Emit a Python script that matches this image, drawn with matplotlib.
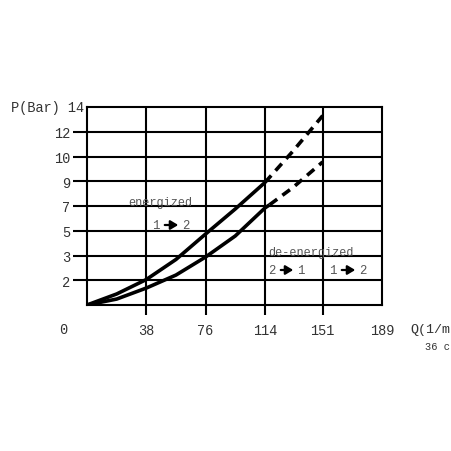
import numpy as np
import matplotlib
matplotlib.use("Agg")
import matplotlib.pyplot as plt

# ---- data ----
y_levels = [0, 2, 3, 5, 7, 9, 10, 12, 14]          # pressure gridline labels (bar), evenly spaced on chart
x_ticks = [38, 76, 114, 151, 189]                   # flow tick labels (l/min)

energ_q = [0, 19, 38, 57, 76, 95, 114]
energ_p = [0, 0.89, 2.03, 2.84, 4.74, 6.76, 8.9]
energ_q_dash = [114, 132, 151]
energ_p_dash = [8.9, 10.44, 13.3]

deen_q = [0, 19, 38, 57, 76, 95, 114, 117]
deen_p = [0, 0.48, 1.37, 2.21, 2.94, 4.58, 6.84, 7.1]
deen_q_dash = [117, 132, 151]
deen_p_dash = [7.1, 8.5, 9.78]

FONT = "Liberation Mono"
positions = np.arange(len(y_levels), dtype=float)

def fwd(y):
    return np.interp(y, y_levels, positions)

def inv(p):
    return np.interp(p, positions, y_levels)

fig = plt.figure(figsize=(4.52, 4.52), dpi=100)
ax = fig.add_axes([87/452, 1-306/452, (382-87)/452, (306-108)/452])
ax.set_yscale("function", functions=(fwd, inv))
ax.set_xlim(0, 189)
ax.set_ylim(0, 14)

lw_grid = 1.5
for s in ax.spines.values():
    s.set_linewidth(lw_grid)
    s.set_color("black")

ax.set_yticks(y_levels[1:])
ax.set_yticklabels([str(v) for v in y_levels[1:-1]] + [""])
ax.set_xticks(x_ticks)
ax.set_xticklabels([str(v) for v in x_ticks])
ax.yaxis.set_minor_locator(matplotlib.ticker.NullLocator())
ax.xaxis.set_minor_locator(matplotlib.ticker.NullLocator())

ax.tick_params(axis="y", direction="out", length=10, width=lw_grid, pad=2,
               labelsize=9.8, colors="black", labelcolor="#333333")
ax.tick_params(axis="x", direction="out", length=7.2, width=lw_grid, pad=6,
               labelsize=9.8, colors="black", labelcolor="#333333")
for lab in ax.get_xticklabels() + ax.get_yticklabels():
    lab.set_fontfamily(FONT)
ax.yaxis.get_major_ticks()[-1].tick1line.set_visible(False)
ax.xaxis.get_major_ticks()[-1].tick1line.set_visible(False)

for v in y_levels[1:-1]:
    ax.axhline(v, color="black", lw=lw_grid, zorder=1)
for v in x_ticks[:-1]:
    ax.axvline(v, color="black", lw=lw_grid, zorder=1)

lw_c = 2.6
ax.plot(energ_q, energ_p, color="black", lw=lw_c, solid_capstyle="butt",
        solid_joinstyle="round", zorder=3)
ax.plot(energ_q_dash, energ_p_dash, color="black", lw=lw_c, dashes=(2.6, 1.8), zorder=3)
ax.plot(deen_q, deen_p, color="black", lw=lw_c, solid_capstyle="butt",
        solid_joinstyle="round", zorder=3)
ax.plot(deen_q_dash, deen_p_dash, color="black", lw=lw_c, dashes=(2.6, 1.8), zorder=3)

# labels
fig.text(84/452, 1-108/452, "P(Bar) 14", ha="right", va="center", fontsize=9.8,
         family=FONT, color="#333333")
fig.text(63/452, 1-330/452, "0", ha="center", va="center", fontsize=9.8,
         family=FONT, color="#333333")
fig.text(410/452, 1-330/452, "Q(1/m", ha="left", va="center", fontsize=9.6,
         family=FONT, color="#333333")
fig.text(425/452, 1-347/452, "36 c", ha="left", va="center", fontsize=7.5,
         family=FONT, color="#333333")

tc = "#555555"
def ftext(x, y, s, **kw):
    fig.text(x/452, 1-y/452, s, family=FONT, color=tc, va="center", **kw)

ftext(160, 203, "energized", ha="center", fontsize=8.6)
ftext(311, 253, "de-energized", ha="center", fontsize=8.6)

def arrow_label(x1, x2, y, a, b):
    ftext(x1, y, a, ha="center", fontsize=8.8)
    ftext(x2, y, b, ha="center", fontsize=8.8)
    fig.patches.append(matplotlib.patches.FancyArrowPatch(
        ((x1 + 6)/452, 1-y/452), ((x2 - 5)/452, 1-y/452),
        transform=fig.transFigure, arrowstyle="-|>,head_length=3,head_width=1.8",
        color="black", lw=1.6, mutation_scale=1.5))

arrow_label(156, 186, 226, "1", "2")
arrow_label(272, 301, 271, "2", "1")
arrow_label(333, 363, 271, "1", "2")

fig.savefig("out.png", dpi=100, facecolor="white")
